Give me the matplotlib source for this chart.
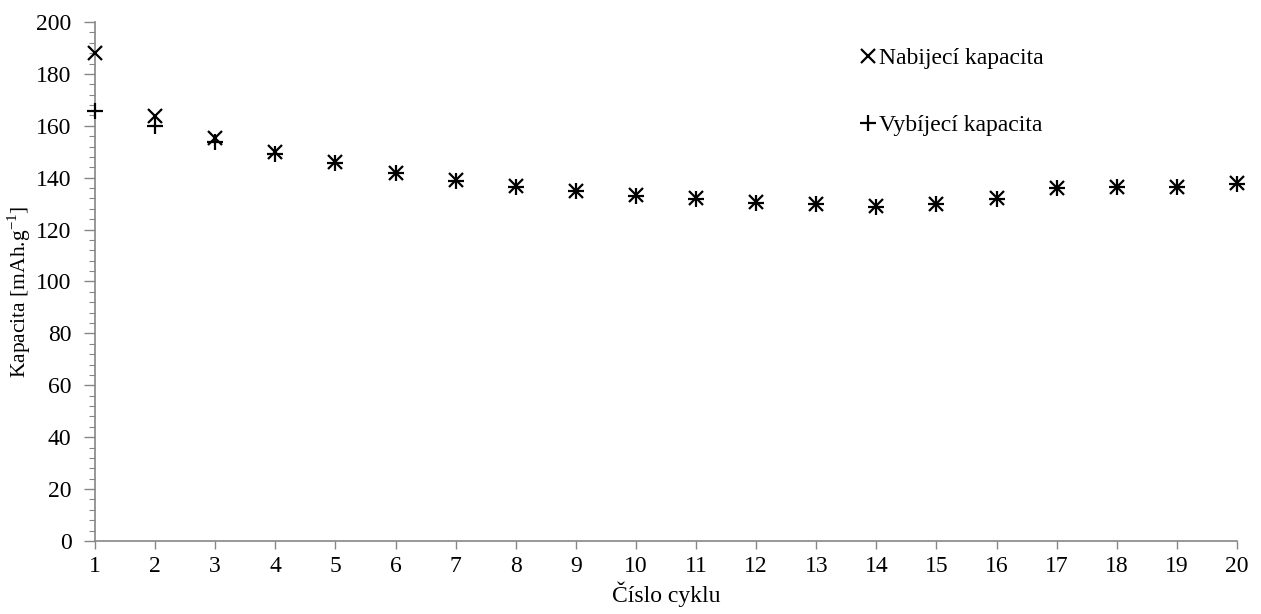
import matplotlib
matplotlib.use("Agg")
import matplotlib.pyplot as plt
from matplotlib.ticker import MultipleLocator

plt.rcParams['font.family'] = ['Liberation Serif', 'DejaVu Serif']

cycles = list(range(1, 21))
nabijeci = [188.0, 163.8, 155.3, 150.0, 146.0, 142.0, 139.0, 136.8, 134.9, 133.2,
            132.0, 130.5, 130.0, 129.0, 130.0, 132.0, 136.2, 136.5, 136.5, 137.8]
vybijeci = [165.8, 159.9, 153.8, 149.3, 145.7, 141.8, 138.6, 136.6, 134.7, 133.0,
            131.8, 130.2, 129.8, 128.8, 129.8, 131.8, 136.0, 136.3, 136.3, 137.6]
label_nab = "Nabijecí kapacita"
label_vyb = "Vybíjecí kapacita"
xlabel = "Číslo cyklu"
ylabel = "Kapacita [mAh.g$^{\\mathregular{-1}}$]"

fig = plt.figure(figsize=(12.61, 6.14), dpi=100)
ax = fig.add_axes([95/1261, 1-541/614, (1237-95)/1261, (541-22)/614])

ax.plot(cycles, nabijeci, linestyle='none', marker='x', color='black',
        markersize=10, markeredgewidth=1.6, label=label_nab, clip_on=False, zorder=3)
ax.plot(cycles, vybijeci, linestyle='none', marker='+', color='black',
        markersize=11, markeredgewidth=1.6, label=label_vyb, clip_on=False, zorder=3)

ax.set_xlim(1, 20)
ax.set_ylim(0, 200)
ax.set_xticks(cycles)
ax.yaxis.set_major_locator(MultipleLocator(20))
ax.yaxis.set_minor_locator(MultipleLocator(4))

gray = '#868686'
for s in ['top', 'right']:
    ax.spines[s].set_visible(False)
for s in ['left', 'bottom']:
    ax.spines[s].set_color(gray)
    ax.spines[s].set_linewidth(1.2)
ax.tick_params(axis='both', which='both', direction='out', color=gray, labelsize=17,
               labelcolor='black')
ax.tick_params(axis='y', which='major', length=8, width=1.0, pad=9)
ax.tick_params(axis='y', which='minor', length=4, width=0.8)
ax.tick_params(axis='x', which='major', length=6, width=1.0, pad=5)

ax.set_xlabel(xlabel, fontsize=17, labelpad=3)
ax.set_ylabel(ylabel, fontsize=15.5)
ax.yaxis.set_label_coords(-62/1142, 0.48)

leg = ax.legend(loc='upper left', bbox_to_anchor=(838/1261, 1-26/614),
                bbox_transform=fig.transFigure, frameon=False, fontsize=17,
                labelspacing=1.95, handlelength=0.7, handletextpad=0.15)

fig.savefig("out.png", dpi=100)
